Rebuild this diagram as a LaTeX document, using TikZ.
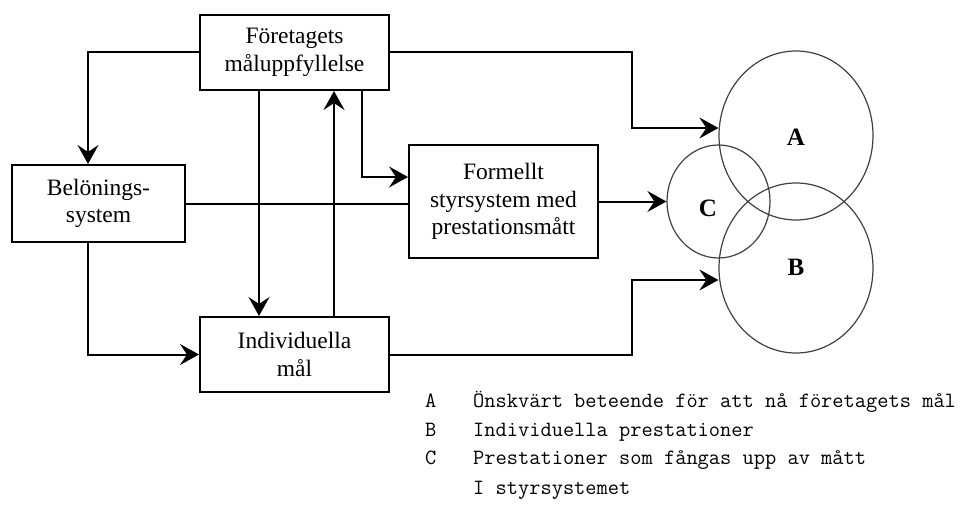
\documentclass[tikz,border=0pt]{standalone}
\usepackage{fontspec}
\setmainfont{Liberation Serif}
\usetikzlibrary{shapes.geometric,arrows.meta}
\begin{document}
\begin{tikzpicture}[x=1pt,y=-1pt,
 box/.style={draw,line width=2pt,inner sep=0pt,align=center,font=\fontsize{23.5}{27.5}\selectfont},
 arr/.style={line width=2pt,-{Stealth[length=19pt,width=21pt,inset=7pt]}},
 conn/.style={line width=2pt},
 venn/.style={draw=black!75,line width=1.2pt,ellipse,inner sep=0pt},
 vlabel/.style={inner sep=0pt,font=\fontsize{25}{25}\selectfont\bfseries},
 leg/.style={anchor=base west,inner sep=0pt,font=\ttfamily\fontsize{21.8}{21.8}\selectfont}]
\useasboundingbox (0,0) rectangle (970,511);
% boxes
\node[box,minimum width=189pt,minimum height=75pt] (top) at (294.5,52.5) {Företagets\\måluppfyllelse};
\node[box,minimum width=173pt,minimum height=77pt] (bel) at (98.5,203.5) {Belönings-\\system};
\node[box,minimum width=189pt,minimum height=113pt] (form) at (503.5,201.5) {Formellt\\styrsystem med\\prestationsmått};
\node[box,minimum width=189pt,minimum height=75pt] (ind) at (294.5,354.5) {Individuella\\mål};
% venn
\node[venn,minimum width=154pt,minimum height=169pt] (A) at (796,135.5) {};
\node[venn,minimum width=154pt,minimum height=170pt] (B) at (796,268) {};
\node[venn,minimum width=103pt,minimum height=113pt] (C) at (718.5,201.5) {};
\node[vlabel] (la) at (796,137) {A};
\node[vlabel] (lb) at (796,267) {B};
\node[vlabel] (lc) at (708,208) {C};
% helper coordinates
\coordinate (x1) at (259,0);
\coordinate (x2) at (334,0);
\coordinate (x3) at (362,0);
\coordinate (y177) at (0,177);
\coordinate (kA) at (632,128);
\coordinate (kB) at (632,280);
% connectors
\draw[arr] (top.west) -| ([xshift=-10.5pt]bel.north);
\draw[arr] (top.south -| x1) -- (ind.north -| x1);
\draw[arr] (ind.north -| x2) -- (top.south -| x2);
\draw[arr] (top.south -| x3) |- (form.west |- y177);
\draw[conn] (bel.east) -- (bel.east -| form.west);
\draw[arr] (top.east) -- (top.east -| kA) -- (kA) -- (A.west |- kA);
\draw[arr] (form.east) -- (C.west);
\draw[arr] (ind.east) -- (ind.east -| kB) -- (kB) -- (B.west |- kB);
\draw[arr] ([xshift=-10.5pt]bel.south) |- (ind.west);
% legend
\node[leg] (ka) at (425,407) {A};
\node[leg] (ta) at (473,407) {Önskvärt beteende för att nå företagets mål};
\node[leg] (kb) at (425,436) {B};
\node[leg] (tb) at (473,436) {Individuella prestationer};
\node[leg] (kc) at (425,464) {C};
\node[leg] (tc) at (473,464) {Prestationer som fångas upp av mått};
\node[leg] (td) at (473,494) {I styrsystemet};
\end{tikzpicture}
\end{document}
